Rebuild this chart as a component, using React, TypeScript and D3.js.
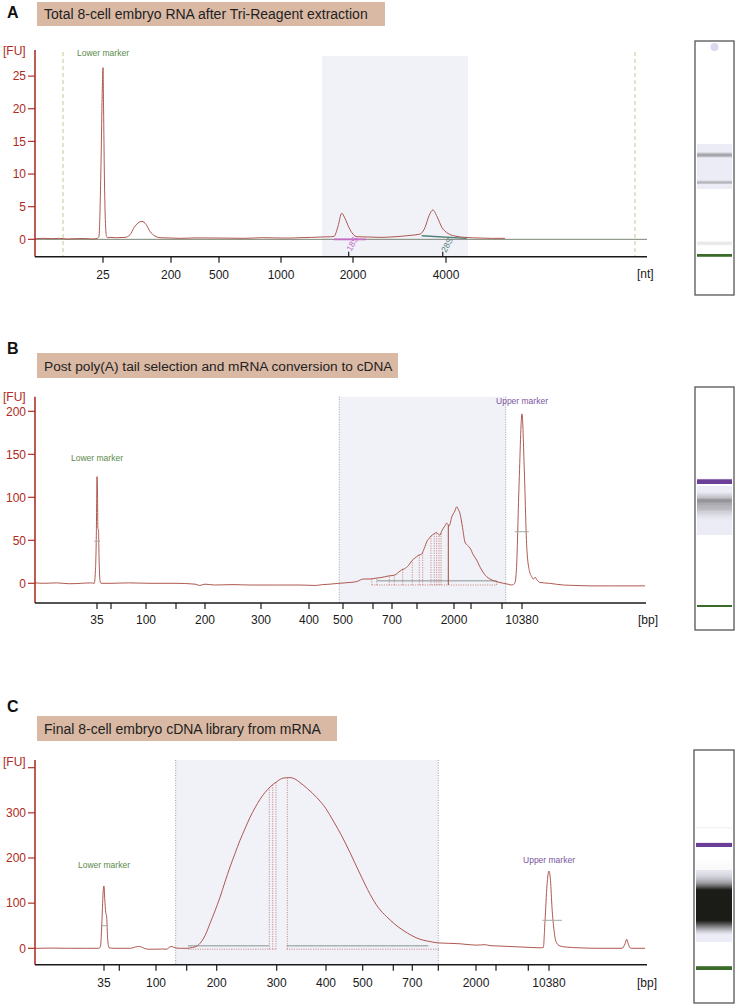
import React from 'react';
import * as d3 from 'd3';

type Pt = [number, number];

// ======================= DATA =======================
// ---- Panel A : total RNA (RNA pico ladder, nt) ----
const A_title = 'Total 8-cell embryo RNA after Tri-Reagent extraction';
const A_ladder = [25, 200, 500, 1000, 2000, 4000];
const A_labeled = [25, 200, 500, 1000, 2000, 4000];
const A_upperTicks = [1940, 3930];
const A_yTicks = [0, 5, 10, 15, 20, 25];
const A_yTickLabels = ['0', '5', '10', '15', '20', '25'];
const A_yDomain = [-2.66, 29];
const A_trace: Pt[] = [
  [0, 0.1], [3, 0.15], [6, 0.1], [9, 0.15], [12, 0.05], [15, 0.1], [18, 0.12], [21, 0.05], [22.8, 0.15],
  [23.5, 0.4], [24.2, 10], [24.7, 22], [25, 26.3], [26.5, 20], [28.5, 10], [31, 3], [34, 0.5], [37, 0.25],
  [43, 0.3], [60, 0.25], [81.6, 0.3], [94.5, 0.7], [104.8, 1.8], [115, 2.5], [125.4, 2.75], [135.7, 2.3],
  [146, 1.2], [158.8, 0.5], [171.7, 0.25], [200, 0.2], [260, 0.15], [350, 0.22], [500, 0.2], [700, 0.15],
  [850, 0.25], [1000, 0.2], [1150, 0.2], [1264, 0.25], [1420, 0.3], [1542, 0.35], [1690, 0.4], [1736, 0.45],
  [1792, 2.0], [1843, 4.0], [1889, 3.2], [1944, 1.8], [2000, 0.8], [2086, 0.4], [2365, 0.35], [2600, 0.3],
  [2903, 0.4], [3225, 0.6], [3441, 0.8], [3548, 1.8], [3634, 3.6], [3720, 4.5], [3806, 3.5], [3914, 1.8],
  [4043, 0.9], [4194, 0.5], [4409, 0.3], [4731, 0.2], [5000, 0.15], [5269, 0.15],
];
const A_region = [1569, 4473];
const A_regionTop = 28.1;
const A_alignLines = [10.3, 8064];
const A_18S: Pt[] = [[1736, 0], [2280, 0]];
const A_28S: Pt[] = [[3477, 0.55], [4445, 0.15]];
const A_rRNANames = ['18S', '28S'];
const A_rRNALabelAt: Pt[] = [[1976, -1.9], [4000, -2.1]];
const A_lowerMarker = 25;
const A_markerLabelAt: Pt[] = [[25, 28.1]];

// ---- Panel B : High Sensitivity DNA ladder (bp) ----
const HS_ladder = [35, 50, 100, 150, 200, 300, 400, 500, 600, 700, 1000, 2000, 3000, 7000, 10380];
const HS_labeled = [35, 100, 200, 300, 400, 500, 700, 2000, 10380];

const B_title = 'Post poly(A) tail selection and mRNA conversion to cDNA';
const B_yTicks = [0, 50, 100, 150, 200];
const B_yTickLabels = ['0', '50', '100', '150', '200'];
const B_yDomain = [-22.9, 217];
const B_trace: Pt[] = [
  [15, 0.5], [18, 0], [22, 0.5], [26, -0.5], [30, 0], [33, 0.5], [34.1, 0], [34.5, 15], [34.8, 60],
  [35, 124], [35.6, 100], [35.9, 64], [36.6, 62], [37.2, 30], [38.2, 3], [39.3, 0], [50, 0], [75, 0.5],
  [106.7, 0], [150, 0], [183, -1], [191, -2.5], [200, -1], [217, -2], [250, -1.5], [280, -2], [330, -2],
  [381, -2], [420, -2.5], [440, -1.5], [462, -1], [488, 0], [506, 0.5], [523, 1],
  [545.7, 2], [567.7, 5], [590, 5], [615, 6], [636.8, 6.5], [660, 7.5], [680.5, 8.5], [700, 9], [736, 9.7],
  [780, 13], [816, 15.5], [850, 17], [876, 18.6], [900, 21], [936, 26], [970, 29], [996, 31], [1060, 33],
  [1127, 34], [1170, 38], [1216, 42.6], [1260, 48], [1305, 51], [1380, 55], [1441, 57], [1532, 59],
  [1580, 57], [1622, 56], [1660, 60], [1711, 64], [1760, 67], [1803, 70], [1840, 68], [1873, 67],
  [1938, 77], [2050, 84], [2159, 89], [2250, 86], [2353, 81], [2500, 65], [2647, 48], [2800, 44],
  [2941, 41], [3300, 33], [3735, 27], [4050, 21], [4380, 15.5], [4700, 11], [5025, 7.7], [5450, 5],
  [5877, 3], [6500, 1.5], [7220, 0], [8000, -1], [8640, -2], [9150, 0], [9430, 15], [9870, 112],
  [10380, 197], [10769, 132], [11175, 43], [11614, 15], [12000, 8], [12290, 5], [12600, 7], [12900, 4],
  [13422, 1], [15000, 0], [17360, -2], [19500, -2.5], [21870, -3], [26000, -3], [31165, -3],
];
const B_region = [489, 7625];
const B_peakBounds = [596, 620, 686, 728, 828, 944, 1062, 1154, 1378, 1468, 1532, 1595, 1649, 6315];
const B_mainBound = [1846];
const B_intLines = [[620, 6315]];
const B_intValue = 3;
const B_baseLines = [[596, 6315]];
const B_baseValue = -2;
const B_crosshairs = [[34.1, 38.2, 49], [9150, 11530, 60]];
const B_lowerMarker = 35;
const B_upperMarker = 10380;
const B_markerLabelAt: Pt[] = [[35, 142], [10380, 209]];

// ---- Panel C : final cDNA library ----
const C_title = 'Final 8-cell embryo cDNA library from mRNA';
const C_yTicks = [0, 100, 200, 300, 400];
const C_yTickLabels = ['0', '100', '200', '300', ''];
const C_yDomain = [-36.3, 417];
const C_trace: Pt[] = [
  [15, 0], [20, 0.5], [25, 0], [30, 0], [33.5, 0], [34, 5], [34.4, 60], [34.8, 130], [35, 138],
  [35.7, 110], [36.7, 80], [37.6, 70], [38.6, 20], [40.1, 1], [45, 0], [55, 0], [65, 0], [72, 3], [76, 4],
  [80, 3], [84, 0], [90, -2], [100, -2], [110, -1.5], [118, -2], [121, 2], [126, 4], [131, 1], [140, 0],
  [152, 0], [155.5, 1], [163.8, 3], [172.2, 11], [180.5, 28], [188.8, 55], [197.2, 83], [205.5, 113],
  [213.8, 147], [222.2, 180], [230.5, 210], [238.8, 239], [247.2, 265], [255.5, 290], [263.8, 311],
  [272.2, 330], [280.5, 345], [288.8, 357], [300, 369], [313.4, 377], [327, 378], [337, 375], [347.3, 367],
  [363, 353], [381.2, 334], [400, 309], [419.9, 282], [442.8, 249], [465.4, 212], [492.6, 165],
  [523.9, 120], [550, 91], [578.4, 70], [609, 53], [651, 40], [698, 28], [789, 20], [904, 15], [996, 12],
  [1310, 11], [1575, 10], [2000, 7], [2450, 8], [2700, 6], [3495, 5], [4735, 4], [5972, 3], [8094, 1.5],
  [8911, 1], [9449, 2], [9728, 60], [10054, 140], [10380, 171], [10625, 150], [10870, 90], [11197, 40],
  [11524, 15], [12176, 5], [12992, 3], [15442, 1], [18708, 0], [22300, 0], [22790, 10], [23068, 20],
  [23362, 8], [23770, 0], [26057, 0],
];
const C_region = [132, 1000];
const C_peakBounds = [287.7, 293.3, 298.8, 321.6];
const C_intLines = [[152, 287], [320, 885]];
const C_intValue = 5.7;
const C_baseLines = [[152, 299], [320, 1045]];
const C_baseValue = -2;
const C_crosshairs = [[34.3, 39.2, 50], [9320, 12500, 62]];
const C_lowerMarker = 35;
const C_upperMarker = 10380;
const C_markerLabelAt: Pt[] = [[35, 177], [10380, 190]];

// ======================= LAYOUT / STYLE =======================
const FONT = 'Liberation Sans, Arial, sans-serif';
const COL = {
  trace: '#a6463d',
  yAxis: '#b0302a',
  yText: '#b02a22',
  shade: '#f1f1f8',
  title: '#dab9a4',
  lower: '#5b8a4a',
  upper: '#7a55a0',
  gelLower: '#3b6b2b',
  gelUpper: '#6b3f98',
  gelDark: '#1b1b17',
  gelBg: '#ececf6',
};

const LAYOUT = {
  A: {
    letter: 'A', letterY: 18, box: [37, 2, 348, 24], titleY: 19,
    fuY: 55, axisTop: 50, axisY: 256.7, xStart: 0, xRange: [35, 103, 171, 219, 281, 353, 446], axisEnd: 647,
    tickLabelY: 279, unit: '[nt]', unitX: 637, unitY: 278,
    lane: [695, 41, 39, 254], gelSizes: [25, 3720], gelYs: [255, 155], gelLo: 2.0, gelHi: 9.5,
  },
  B: {
    letter: 'B', letterY: 354, box: [37, 353, 361, 25], titleY: 370.5,
    fuY: 401, axisTop: 396.7, axisY: 603, xStart: 15,
    xRange: [35, 97, 111, 146, 176, 205, 261, 309, 343, 373, 392, 417, 454, 471, 502, 522], axisEnd: 646,
    tickLabelY: 623.5, unit: '[bp]', unitX: 638, unitY: 623.5,
    lane: [695, 387, 39, 243], gelSizes: [35, 10380], gelYs: [606, 481.7], gelLo: 8, gelHi: 200,
  },
  C: {
    letter: 'C', letterY: 712, box: [37, 716, 300, 25], titleY: 733.5,
    fuY: 766, axisTop: 760, axisY: 964.7, xStart: 15,
    xRange: [35, 104, 119.3, 156, 186.7, 216.7, 276.7, 326, 362.7, 393.3, 412.3, 438.3, 476, 496, 528.3, 549],
    axisEnd: 647, tickLabelY: 986.5, unit: '[bp]', unitX: 637, unitY: 986.5,
    lane: [694, 750, 40, 253], gelSizes: [35, 300, 10380], gelYs: [968.3, 906, 845], gelLo: 6, gelHi: 230,
  },
};

type Spec = {
  L: any; title: string; ladder: number[]; labeled: number[]; upTicks?: number[];
  yTicks: number[]; yTickLabels: string[]; yDomain: number[]; trace: Pt[];
  region: number[]; regionTop: number; regionDotted: boolean; alignLines?: number[];
  lowerMarker: number; upperMarker?: number; markerLabelAt: Pt[];
  peakBounds?: number[]; mainBound?: number[]; intLines?: number[][]; intValue?: number;
  baseLines?: number[][]; baseValue?: number; crosshairs?: number[][]; zeroLine?: boolean;
  rRNA?: boolean; topDot?: boolean; titleSize: number;
};

const SPECS: Spec[] = [
  {
    L: LAYOUT.A, title: A_title, ladder: A_ladder, labeled: A_labeled, upTicks: A_upperTicks,
    yTicks: A_yTicks, yTickLabels: A_yTickLabels, yDomain: A_yDomain, trace: A_trace,
    region: A_region, regionTop: A_regionTop, regionDotted: false, alignLines: A_alignLines,
    lowerMarker: A_lowerMarker, markerLabelAt: A_markerLabelAt, zeroLine: true, rRNA: true, topDot: true,
    titleSize: 14,
  },
  {
    L: LAYOUT.B, title: B_title, ladder: HS_ladder, labeled: HS_labeled,
    yTicks: B_yTicks, yTickLabels: B_yTickLabels, yDomain: B_yDomain, trace: B_trace,
    region: B_region, regionTop: B_yDomain[1], regionDotted: true,
    lowerMarker: B_lowerMarker, upperMarker: B_upperMarker, markerLabelAt: B_markerLabelAt,
    peakBounds: B_peakBounds, mainBound: B_mainBound, intLines: B_intLines, intValue: B_intValue,
    baseLines: B_baseLines, baseValue: B_baseValue, crosshairs: B_crosshairs, titleSize: 13.7,
  },
  {
    L: LAYOUT.C, title: C_title, ladder: HS_ladder, labeled: HS_labeled,
    yTicks: C_yTicks, yTickLabels: C_yTickLabels, yDomain: C_yDomain, trace: C_trace,
    region: C_region, regionTop: C_yDomain[1], regionDotted: true,
    lowerMarker: C_lowerMarker, upperMarker: C_upperMarker, markerLabelAt: C_markerLabelAt,
    peakBounds: C_peakBounds, intLines: C_intLines, intValue: C_intValue,
    baseLines: C_baseLines, baseValue: C_baseValue, crosshairs: C_crosshairs, titleSize: 14,
  },
];

function Panel({ s }: { s: Spec }) {
  const L = s.L;
  const x = d3.scaleLinear().domain([L.xStart, ...s.ladder]).range(L.xRange);
  const y = d3.scaleLinear().domain(s.yDomain).range([L.axisY, L.axisTop]);
  const line = d3.line<Pt>().x((d) => x(d[0])).y((d) => y(d[1]));
  const traceLine = d3.line<Pt>().x((d) => x(d[0])).y((d) => y(d[1])).curve(d3.curveMonotoneX);
  const x0 = L.xRange[0];

  const tracePx: Pt[] = s.trace.map(([a, v]) => [x(a), v] as Pt);
  const bis = d3.bisector((d: Pt) => d[0]).left;
  const valueAtPx = (px: number) => {
    if (px <= tracePx[0][0]) return tracePx[0][1];
    const last = tracePx[tracePx.length - 1];
    if (px >= last[0]) return last[1];
    const i = bis(tracePx, px);
    const a = tracePx[i - 1], b = tracePx[i];
    return a[1] + ((b[1] - a[1]) * (px - a[0])) / (b[0] - a[0]);
  };
  const valueAt = (size: number) => valueAtPx(x(size));

  // virtual gel lane, computed from the trace
  const [lx, ly, lw, lh] = L.lane;
  const gel = d3.scaleLinear().domain(L.gelSizes.map((v: number) => x(v))).range(L.gelYs);
  const rows: { y: number; c: string }[] = [];
  const rx0 = x(s.region[0]), rx1 = x(s.region[1]);
  for (let yy = ly + 1; yy < ly + lh - 1; yy++) {
    const p0 = gel.invert(yy), p1 = gel.invert(yy + 1);
    let vmax = -Infinity, pm = p0;
    for (let k = 0; k <= 6; k++) {
      const p = p0 + ((p1 - p0) * k) / 6;
      const v = valueAtPx(p);
      if (v > vmax) { vmax = v; pm = p; }
    }
    const pc = (p0 + p1) / 2;
    const inReg = pc >= Math.min(rx0, rx1) && pc <= Math.max(rx0, rx1);
    const bg = inReg ? COL.gelBg : '#ffffff';
    let target = COL.gelDark, lo = L.gelLo, hi = L.gelHi;
    const nearLower = Math.abs(pm - x(s.lowerMarker)) < 8;
    const nearUpper = s.upperMarker != null && Math.abs(pm - x(s.upperMarker)) < 10;
    if (nearLower || nearUpper) {
      const peak = nearLower ? valueAt(s.lowerMarker) : valueAt(s.upperMarker as number);
      target = nearLower ? COL.gelLower : COL.gelUpper;
      lo = peak * 0.04; hi = peak * 0.2;
    }
    const t = Math.max(0, Math.min(1, (vmax - lo) / (hi - lo)));
    const c = d3.interpolateRgb(bg, target)(t);
    if (c !== 'rgb(255, 255, 255)') rows.push({ y: yy, c });
  }

  const markerNames = ['Lower marker', 'Upper marker'];

  return (
    <g>
      {/* panel letter and title */}
      <text x={7} y={L.letterY} fontFamily={FONT} fontWeight="bold" fontSize={16} fill="#111">{L.letter}</text>
      <rect x={L.box[0]} y={L.box[1]} width={L.box[2]} height={L.box[3]} fill={COL.title} />
      <text x={44} y={L.titleY} fontFamily={FONT} fontSize={s.titleSize} fill="#222">{s.title}</text>

      {/* shaded region */}
      <rect x={x(s.region[0])} y={y(s.regionTop)} width={x(s.region[1]) - x(s.region[0])}
        height={L.axisY - y(s.regionTop)} fill={COL.shade} />
      {s.regionDotted && s.region.map((r, i) => (
        <line key={'rd' + i} x1={x(r)} x2={x(r)} y1={y(s.regionTop)} y2={L.axisY}
          stroke="#8a8a98" strokeWidth={0.8} strokeDasharray="1,1.5" />
      ))}
      {s.alignLines && s.alignLines.map((r, i) => (
        <line key={'al' + i} x1={x(r)} x2={x(r)} y1={L.axisTop + 2} y2={L.axisY}
          stroke="#c9c596" strokeWidth={1} strokeDasharray="4,3" />
      ))}

      {/* zero line (A) */}
      {s.zeroLine && (
        <line x1={x0} x2={L.axisEnd} y1={y(0)} y2={y(0)} stroke="#7c8676" strokeWidth={1} />
      )}

      {/* integration lines */}
      {s.intLines && s.intLines.map((r, i) => (
        <line key={'il' + i} x1={x(r[0])} x2={x(r[1])} y1={y(s.intValue as number)} y2={y(s.intValue as number)}
          stroke="#aab4b4" strokeWidth={1.6} />
      ))}
      {s.baseLines && s.baseLines.map((r, i) => (
        <line key={'bl' + i} x1={x(r[0])} x2={x(r[1])} y1={y(s.baseValue as number)} y2={y(s.baseValue as number)}
          stroke="#c47a74" strokeWidth={0.8} strokeDasharray="1.2,1.2" />
      ))}
      {s.peakBounds && s.peakBounds.map((b, i) => (
        <line key={'pb' + i} x1={x(b)} x2={x(b)} y1={y(s.baseValue as number)} y2={y(valueAt(b))}
          stroke="#c47a74" strokeWidth={0.8} strokeDasharray="1.2,1.2" />
      ))}
      {s.mainBound && s.mainBound.map((b, i) => (
        <line key={'mb' + i} x1={x(b)} x2={x(b)} y1={y(s.baseValue as number)} y2={y(valueAt(b))}
          stroke="#a6463d" strokeWidth={1} />
      ))}

      {/* rRNA peak integration */}
      {s.rRNA && (
        <g>
          <path d={line(A_18S) as string} stroke="#c46cc8" strokeWidth={1.6} fill="none" />
          <path d={line(A_28S) as string} stroke="#4f7f76" strokeWidth={1.4} fill="none" />
          {A_rRNANames.map((n, i) => (
            <text key={n} x={x(A_rRNALabelAt[i][0])} y={y(A_rRNALabelAt[i][1])} fontFamily={FONT} fontSize={8.5}
              fill={i === 0 ? '#c46cc8' : '#5a7f78'}
              transform={`rotate(-62 ${x(A_rRNALabelAt[i][0])} ${y(A_rRNALabelAt[i][1])})`}>{n}</text>
          ))}
        </g>
      )}

      {/* trace */}
      <path d={traceLine(s.trace) as string} fill="none" stroke={COL.trace} strokeWidth={0.9} />

      {/* crosshairs */}
      {s.crosshairs && s.crosshairs.map((c, i) => (
        <line key={'ch' + i} x1={x(c[0])} x2={x(c[1])} y1={y(c[2])} y2={y(c[2])} stroke="#a3a9a9" strokeWidth={1} />
      ))}

      {/* marker labels */}
      {s.markerLabelAt.map((m, i) => (
        <text key={'ml' + i} x={x(m[0])} y={y(m[1])} textAnchor="middle" fontFamily={FONT} fontSize={8.5}
          fill={i === 0 ? COL.lower : COL.upper}>{markerNames[i]}</text>
      ))}

      {/* y axis */}
      <line x1={x0} x2={x0} y1={L.axisTop} y2={L.axisY} stroke={COL.yAxis} strokeWidth={1.6} />
      {s.yTicks.map((t, i) => (
        <g key={'yt' + i}>
          <line x1={x0 - 7} x2={x0} y1={y(t)} y2={y(t)} stroke={COL.yAxis} strokeWidth={1.2} />
          <text x={x0 - 9} y={y(t)} dy="0.36em" textAnchor="end" fontFamily={FONT} fontSize={12}
            fill={COL.yText}>{s.yTickLabels[i]}</text>
        </g>
      ))}
      <text x={3} y={L.fuY} fontFamily={FONT} fontSize={12} fill={COL.yText}>[FU]</text>

      {/* x axis */}
      <line x1={x0} x2={L.axisEnd} y1={L.axisY} y2={L.axisY} stroke="#1a1a1a" strokeWidth={1.5} />
      {s.ladder.map((t, i) => (
        <line key={'xt' + i} x1={x(t)} x2={x(t)} y1={L.axisY} y2={L.axisY + 6} stroke="#1a1a1a" strokeWidth={1.2} />
      ))}
      {s.upTicks && s.upTicks.map((t, i) => (
        <line key={'ut' + i} x1={x(t)} x2={x(t)} y1={L.axisY - 5} y2={L.axisY} stroke="#1a1a1a" strokeWidth={1.2} />
      ))}
      {s.labeled.map((t, i) => (
        <text key={'xl' + i} x={x(t)} y={L.tickLabelY} textAnchor="middle" fontFamily={FONT} fontSize={12}
          fill="#1a1a1a">{String(t)}</text>
      ))}
      <text x={L.unitX} y={L.unitY} fontFamily={FONT} fontSize={12} fill="#1a1a1a">{L.unit}</text>

      {/* gel lane */}
      <rect x={lx} y={ly} width={lw} height={lh} fill="#ffffff" stroke="#555" strokeWidth={1.3} />
      {rows.map((r) => (
        <rect key={'gr' + r.y} x={lx + 2} y={r.y} width={lw - 4} height={1} fill={r.c} />
      ))}
      {s.topDot && <circle cx={lx + lw / 2} cy={ly + 6} r={4} fill="#dcd8ee" />}
    </g>
  );
}

export default function App() {
  return (
    <svg width={736} height={1005} viewBox="0 0 736 1005"
      style={{ position: 'absolute', left: 0, top: 0, background: '#fff' }}>
      <rect x={0} y={0} width={736} height={1005} fill="#fff" />
      {SPECS.map((s, i) => <Panel key={i} s={s} />)}
    </svg>
  );
}
